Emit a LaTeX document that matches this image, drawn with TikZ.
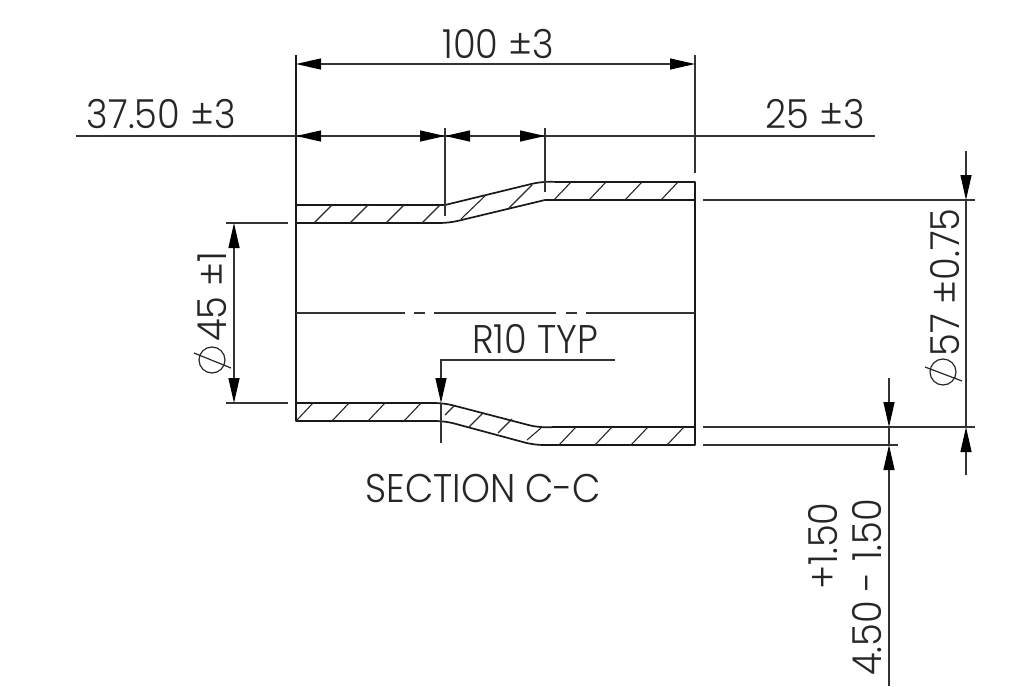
\documentclass[tikz,border=0pt]{standalone}
\usepackage{fontspec}
\setmainfont{Poppins}[UprightFont={* Light},FakeStretch=0.92]
\usetikzlibrary{arrows.meta}
\tikzset{
  x=1pt,y=-1pt,
  part/.style={line width=1.7pt,black!90,line join=round},
  hatch/.style={line width=1.1pt,black!85},
  dim/.style={line width=1.2pt,black!80},
  tipend/.style={-{Triangle[length=25pt,width=11pt,black]}},
  tipboth/.style={{Triangle[length=25pt,width=11pt,black]}-{Triangle[length=25pt,width=11pt,black]}},
  lab/.style={inner sep=0pt,text=black!85,font=\fontsize{40}{40}\selectfont},
  vlab/.style={lab,rotate=90},
  phi/.style={line width=1.2pt,black!85},
}
\begin{document}
\begin{tikzpicture}
\useasboundingbox (0,0) rectangle (1030,686);
% --- part outline
\draw[part] (296,205) -- (445,205);
\draw[part,rounded corners=9pt] (445,205) -- (541,181.6) -- (560,182);
\draw[part] (555,182) -- (695,182) -- (695,200) -- (545,200);
\draw[part,rounded corners=9pt] (545,200) -- (449,223) -- (430,223);
\draw[part] (435,223) -- (296,223) -- (296,205);
\draw[part] (296,403) -- (430,403);
\draw[part,rounded corners=9pt] (425,403) -- (444,403) -- (538,427.5) -- (557,427);
\draw[part] (552,427) -- (695,427) -- (695,445) -- (552,445);
\draw[part,rounded corners=9pt] (557,445) -- (534,445) -- (445,421) -- (432,421);
\draw[part] (436,421) -- (296,421) -- (296,403);
\draw[part] (296,223) -- (296,403);
\draw[part] (695,200) -- (695,427);
% --- hatching
\foreach \a/\b/\c/\d in {
 314/223/332/205, 350/223/368/205, 386/223/404/205, 422/223/440/205,
 461/219/485/196, 509/208/532/185,
 554/200/571/182, 589/200/606/182, 625/200/642/182, 661/200/678/182,
 297/420/313/403, 332/421/349/403, 368/421/385/403, 404/421/421/403,
 445/415/454/406, 469/427/483/413, 498/433/512/419, 527/440/541/428,
 559/445/576/427, 595/445/612/427, 631/445/648/427, 667/445/684/427}
  \draw[hatch] (\a,\b) -- (\c,\d);
% --- centre line
\draw[dim] (296,313) -- (405,313) (414,313) -- (425,313) (434,313) -- (556,313) (566,313) -- (577,313) (586,313) -- (695,313);
% --- extension lines
\draw[part,line width=1.4pt] (296,55) -- (296,205);
\draw[dim] (695,55) -- (695,173);
\draw[dim] (445,128) -- (445,216);
\draw[dim] (545,128) -- (545,192);
\draw[dim] (703,200) -- (975,200);
\draw[dim] (703,427) -- (975,427);
\draw[dim] (703,445) -- (898,445);
\draw[dim] (226,223) -- (288,223);
\draw[dim] (226,403) -- (288,403);
% --- dimensions
\coordinate (tl) at (296,64); \coordinate (tr) at (695,64);
\draw[dim,tipboth] (tl) -- (tr);
\draw[dim] (76,136) -- (875,136);
\coordinate (ma) at (296,136); \coordinate (mb) at (445,136); \coordinate (mc) at (545,136);
\draw[dim,tipboth] (ma) -- (mb);
\draw[dim,tipboth] (mb) -- (mc);
\coordinate (la) at (234,223); \coordinate (lb) at (234,403);
\draw[dim,tipboth] (la) -- (lb);
\coordinate (ra) at (966,200); \coordinate (rb) at (966,427);
\coordinate (rc) at (966,151); \coordinate (rd) at (966,475);
\draw[dim,tipend] (rc) -- (ra);
\draw[dim,tipend] (rd) -- (rb);
\draw[dim] (ra) -- (rb);
\coordinate (ta) at (889,378); \coordinate (tb) at (889,427);
\coordinate (ua) at (889,686); \coordinate (ub) at (889,445);
\draw[dim,tipend] (ta) -- (tb);
\draw[dim,tipend] (ua) -- (ub);
\draw[dim] (tb) -- (ub);
% --- leader
\coordinate (ra1) at (615,360); \coordinate (ra2) at (441,360); \coordinate (ra3) at (441,403);
\draw[dim,tipend] (ra1) -- (ra2) -- (ra3);
\draw[dim] (ra3) -- (441,443);
% --- labels
\node[lab] (n100) at (498.5,43.5) {100 ±3};
\node[lab] (n37) at (161.5,114) {37.50 ±3};
\node[lab] (n25) at (815,114) {25 ±3};
\node[lab] (nr) at (535,338.5) {R10 TYP};
\node[lab] (nsec) at (483.5,488.5) {SECTION C-C};
\node[vlab] (n45) at (212.5,296.5) {45 ±1};
\node[vlab] (n57) at (945,282.5) {57 ±0.75};
\node[vlab] (nplus) at (823.5,546) {+1.50};
\node[vlab] (n450) at (867,587.5) {4.50 - 1.50};
% --- diameter signs
\draw[phi] (212,360) circle (13);
\draw[phi] (194,353) -- (231,368);
\draw[phi] (943,372) circle (13);
\draw[phi] (925,367) -- (962,381);
\end{tikzpicture}
\end{document}
